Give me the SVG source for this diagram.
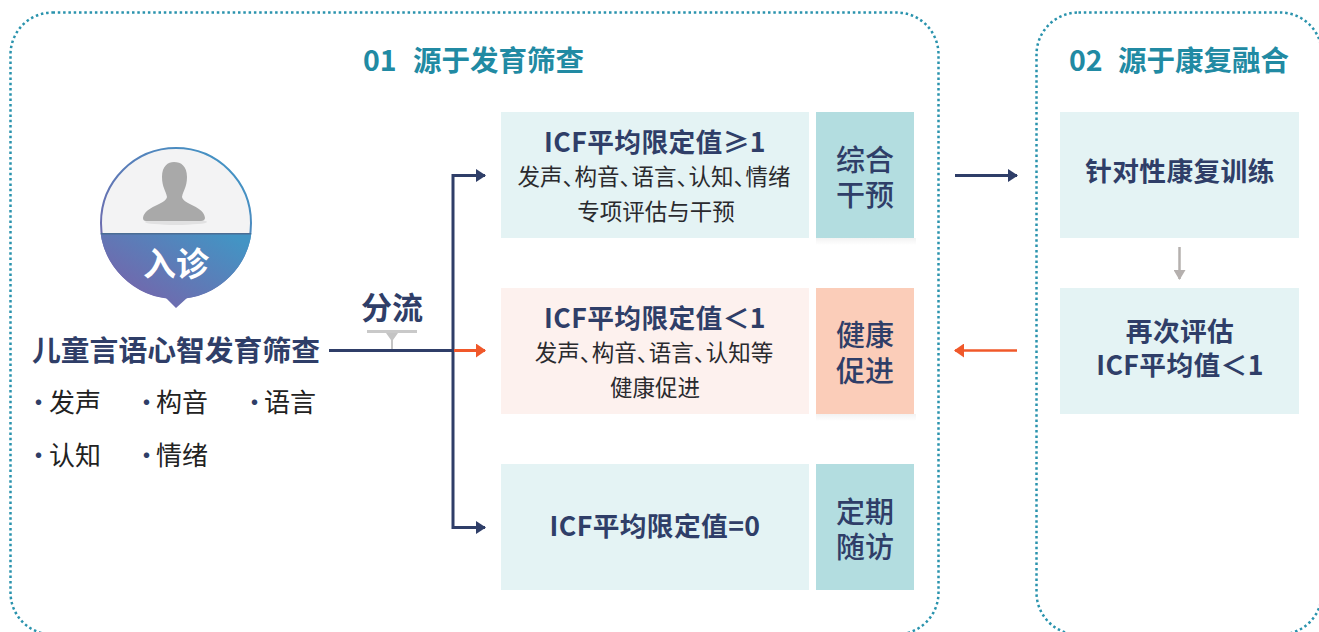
<svg xmlns="http://www.w3.org/2000/svg" width="1319" height="632" viewBox="0 0 1319 632">
<style>
text{font-family:"Noto Sans CJK SC","Noto Sans",sans-serif;fill:#2f3e68;text-anchor:middle}
.panel{fill:#fff;stroke:#2a93ad;stroke-width:2.500;stroke-dasharray:2.500 2.800}
.h{font-size:28.500px;font-weight:700;fill:#218aa3}
.t{font-size:26.700px;font-weight:700;letter-spacing:.4px}
.s{font-size:22.500px;font-weight:400;fill:#2a2a2e}
.c{letter-spacing:-10.500px}
.tag{font-size:29px;font-weight:500}
.l{font-size:26px;text-anchor:start;fill:#222}
.d{fill:#2f3e68}
.teal{fill:#e4f3f4}.tealD{fill:#b3dde0}.pink{fill:#fdf1ee}.pinkD{fill:#fbcdb9}
.ln{fill:none;stroke:#2f3e68;stroke-width:3}
</style>
<defs>
<linearGradient id="g" x1="0" y1="1" x2="1" y2="0.2"><stop offset="0" stop-color="#7f5ba6"/><stop offset="1" stop-color="#4394c4"/></linearGradient>
<linearGradient id="rim" x1="0" y1="1" x2="1" y2="0"><stop offset="0" stop-color="#7a5fa8"/><stop offset="1" stop-color="#3b9ac8"/></linearGradient>
<linearGradient id="sh" x1="0" y1="0" x2="0" y2="1"><stop offset="0" stop-color="#000" stop-opacity=".05"/><stop offset="1" stop-color="#000" stop-opacity="0"/></linearGradient>
<marker id="an" viewBox="0 0 10 13" refX="9" refY="6.500" markerWidth="10" markerHeight="13" markerUnits="userSpaceOnUse" orient="auto"><path d="M0 0L10 6.500L0 13Z" fill="#2f3e68"/></marker>
<marker id="ao" viewBox="0 0 10 14" refX="9" refY="7" markerWidth="10" markerHeight="14" markerUnits="userSpaceOnUse" orient="auto"><path d="M0 0L10 7L0 14Z" fill="#f0582a"/></marker>
<marker id="ag" viewBox="0 0 10 12" refX="9" refY="6" markerWidth="10" markerHeight="12" markerUnits="userSpaceOnUse" orient="auto"><path d="M0 0L10 6L0 12Z" fill="#b5b0ae"/></marker>
</defs>
<rect width="1319" height="632" fill="#fff"/>
<g id="panel-1"><rect class="panel" x="10.500" y="12.500" width="928" height="622" rx="42"/><text class="h" x="363" y="71" style="text-anchor:start">01</text><text class="h" x="413" y="71" style="text-anchor:start">源于发育筛查</text></g>
<g id="panel-2"><rect class="panel" x="1036.500" y="12.500" width="285.500" height="622" rx="42"/><text class="h" x="1069" y="71" style="text-anchor:start">02</text><text class="h" x="1118" y="71" style="text-anchor:start">源于康复融合</text></g>
<g id="patient">
<circle cx="176" cy="223" r="75" fill="#f3f3f4" stroke="url(#rim)" stroke-width="2"/>
<ellipse cx="176" cy="222" rx="31" ry="3" fill="#000" opacity=".07"/>
<path d="M162 177C162 166 168 162 174 162C181 162 187 166 187 177C187 187 183 191 182 197C184 205 204 206 205 218C205 220 203 221 201 221L146 221C144 221 143 220 143 218C145 206 165 205 167 197C166 191 162 187 162 177Z" fill="#a9a9a9"/>
<path d="M100.500 233H251.500A76 76 0 0 1 187 298L176 308L166 298A76 76 0 0 1 100.500 233Z" fill="url(#g)"/>
<rect x="101" y="233" width="150" height="1.500" fill="#4b6d94"/>
<text x="176" y="276" style="font-size:33px;font-weight:700;fill:#fff">入诊</text>
</g>
<g id="screening">
<text x="176" y="361" style="font-size:28.800px;font-weight:700">儿童言语心智发育筛查</text>
<text class="l" x="25.500" y="412"><tspan class="d">·</tspan><tspan x="49">发声</tspan></text>
<text class="l" x="133.500" y="412"><tspan class="d">·</tspan><tspan x="156">构音</tspan></text>
<text class="l" x="241.500" y="412"><tspan class="d">·</tspan><tspan x="264">语言</tspan></text>
<text class="l" x="25.500" y="465"><tspan class="d">·</tspan><tspan x="49">认知</tspan></text>
<text class="l" x="133.500" y="465"><tspan class="d">·</tspan><tspan x="156">情绪</tspan></text>
</g>
<g id="connectors">
<path class="ln" d="M329 350.500H453"/>
<path class="ln" d="M485 175.500H453V527.500H485" marker-end="url(#an)"/>
<path class="ln" d="M453 175.500H485" marker-end="url(#an)"/>
<path d="M454 350.500H485" fill="none" stroke="#f0582a" stroke-width="3" marker-end="url(#ao)"/>
<path class="ln" d="M955 175.500H1017" marker-end="url(#an)"/>
<path d="M1017 350.500H955" fill="none" stroke="#f0582a" stroke-width="2.500" marker-end="url(#ao)"/>
<path d="M1179.500 247V279" fill="none" stroke="#b5b0ae" stroke-width="2.500" marker-end="url(#ag)"/>
</g>
<g id="split-label">
<text x="392" y="319" style="font-size:31px;font-weight:700">分流</text>
<rect x="367" y="330" width="50" height="3" fill="#c9c9c9"/>
<path d="M386 333H398L393 340V349H391V340Z" fill="#c4c4c4"/>
</g>
<g id="box-a"><rect class="teal" x="501" y="112" width="308" height="126"/><text class="t" x="655" y="152">ICF平均限定值≥1</text><text class="s" x="654" y="185">发声<tspan class="c">、</tspan>构音<tspan class="c">、</tspan>语言<tspan class="c">、</tspan>认知<tspan class="c">、</tspan>情绪</text><text class="s" x="656" y="220">专项评估与干预</text></g>
<g id="tag-a"><rect x="816" y="238" width="100" height="7" fill="url(#sh)"/><rect class="tealD" x="816" y="112" width="98" height="126"/><text class="tag" x="865" y="171">综合</text><text class="tag" x="865" y="206">干预</text></g>
<g id="box-b"><rect class="pink" x="501" y="288" width="308" height="126"/><text class="t" x="655" y="328">ICF平均限定值＜1</text><text class="s" x="654" y="361">发声<tspan class="c">、</tspan>构音<tspan class="c">、</tspan>语言<tspan class="c">、</tspan>认知等</text><text class="s" x="655" y="396">健康促进</text></g>
<g id="tag-b"><rect x="816" y="414" width="100" height="7" fill="url(#sh)"/><rect class="pinkD" x="816" y="288" width="98" height="126"/><text class="tag" x="865" y="346">健康</text><text class="tag" x="865" y="382">促进</text></g>
<g id="box-c"><rect class="teal" x="501" y="464" width="308" height="126"/><text class="t" x="655" y="536">ICF平均限定值=0</text></g>
<g id="tag-c"><rect class="tealD" x="816" y="464" width="98" height="126"/><text class="tag" x="865" y="523">定期</text><text class="tag" x="865" y="558">随访</text></g>
<g id="box-d"><rect class="teal" x="1060" y="112" width="239" height="126"/><text class="t" x="1180" y="181">针对性康复训练</text></g>
<g id="box-e"><rect class="teal" x="1060" y="288" width="239" height="126"/><text class="t" x="1180" y="341">再次评估</text><text class="t" x="1180" y="375">ICF平均值＜1</text></g>
</svg>
